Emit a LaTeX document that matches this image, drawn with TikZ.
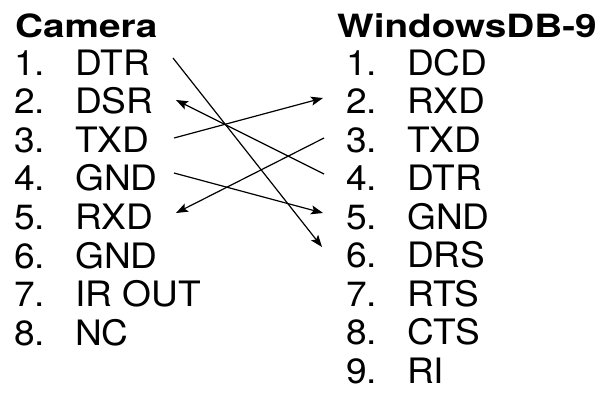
\documentclass[tikz,border=0pt]{standalone}
\usepackage{fontspec}
\setmainfont{TeX Gyre Heros}
\usetikzlibrary{arrows.meta}
\newcommand{\wid}[1]{\scalebox{1.06}[1]{#1}}
\begin{document}
\begin{tikzpicture}[x=1pt,y=-1pt,
  hdr/.style={anchor=base west,inner sep=0pt,font=\fontsize{32}{32}\selectfont\bfseries},
  num/.style={anchor=base west,inner sep=0pt,font=\fontsize{35}{35}\selectfont},
  lbl/.style={anchor=base west,inner sep=0pt,font=\fontsize{35}{35}\selectfont},
  wire/.style={line width=1.2pt,black},
  tip/.style={-{Stealth[length=12pt,width=9pt,inset=2.5pt]}}]
\useasboundingbox[fill=white] (0,0) rectangle (615,392);
% headers
\node[hdr] (hl) at (15,37) {\scalebox{1.21}[1]{Camera}};
\node[hdr] (hr) at (337,37) {\scalebox{1.21}[1]{WindowsDB-9}};
% left column
\foreach \i/\t in {1/DTR,2/DSR,3/TXD,4/GND,5/RXD,6/GND,7/IR OUT,8/NC}{
  \node[num] (ln\i) at (14,{75+(\i-1)*38.6}) {\wid{\i.}};
  \node[lbl] (l\i) at (75,{75+(\i-1)*38.6}) {\wid{\t}};
}
% right column
\foreach \i/\t in {1/DCD,2/RXD,3/TXD,4/DTR,5/GND,6/DRS,7/RTS,8/CTS,9/RI}{
  \node[num] (rn\i) at (346,{75+(\i-1)*38.5}) {\wid{\i.}};
  \node[lbl] (r\i) at (407,{75+(\i-1)*38.5}) {\wid{\t}};
}
% connector end points
\coordinate (a1) at (173,58);
\coordinate (a2) at (176,100);
\coordinate (a3) at (174,138);
\coordinate (a4) at (174,173);
\coordinate (a5) at (176,213);
\coordinate (b2) at (323,98);
\coordinate (b3) at (324,138);
\coordinate (b4) at (324,174);
\coordinate (b5) at (323,213);
\coordinate (b6) at (322,247);
% connectors
\draw[wire,tip] (a1) -- (b6);
\draw[wire,tip] (b4) -- (a2);
\draw[wire,tip] (a3) -- (b2);
\draw[wire,tip] (b3) -- (a5);
\draw[wire,tip] (a4) -- (b5);
\end{tikzpicture}
\end{document}
